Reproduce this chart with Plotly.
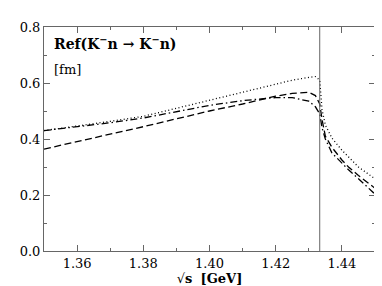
import plotly.graph_objects as go

# sqrt(s) in GeV
SQRT_S = [1.35, 1.36, 1.37, 1.38, 1.39, 1.40, 1.41, 1.42, 1.425, 1.43, 1.432,
          1.4333, 1.434, 1.435, 1.437, 1.44, 1.442, 1.445, 1.45]

REF_DOTTED = [0.430, 0.446, 0.463, 0.481, 0.510, 0.539, 0.568, 0.597, 0.610, 0.620, 0.623,
              0.610, 0.505, 0.450, 0.403, 0.360, 0.336, 0.300, 0.258]
REF_DASHDOT = [0.430, 0.443, 0.458, 0.475, 0.497, 0.520, 0.537, 0.548, 0.548, 0.535, 0.515,
               0.490, 0.440, 0.400, 0.350, 0.312, 0.290, 0.258, 0.203]
REF_DASHED = [0.364, 0.390, 0.417, 0.444, 0.472, 0.500, 0.525, 0.553, 0.563, 0.567, 0.555,
              0.525, 0.470, 0.410, 0.370, 0.325, 0.300, 0.270, 0.224]

THRESHOLD = 1.4333

X_TICKS = [1.36, 1.38, 1.40, 1.42, 1.44]
X_TICK_TEXT = ["1.36", "1.38", "1.40", "1.42", "1.44"]
Y_TICKS = [0.0, 0.2, 0.4, 0.6, 0.8]
Y_TICK_TEXT = ["0.0", "0.2", "0.4", "0.6", "0.8"]

FONT = "DejaVu Serif"
AXIS_GREY = "#666666"

fig = go.Figure()

for ys, dash in [(REF_DOTTED, "1px,2.5px"), (REF_DASHDOT, "7px,3px,1.5px,3px"), (REF_DASHED, "7px,3.5px")]:
    fig.add_trace(go.Scatter(
        x=SQRT_S, y=ys, mode="lines",
        line=dict(color="black", width=1.3, dash=dash),
        showlegend=False, hoverinfo="skip",
    ))

# K-bar N threshold
fig.add_shape(type="line", xref="x", yref="paper",
              x0=THRESHOLD, x1=THRESHOLD, y0=0, y1=1,
              line=dict(color=AXIS_GREY, width=1))

fig.add_annotation(
    xref="paper", yref="paper", x=0.025, y=0.93, xanchor="left", yanchor="middle",
    text="<b>Ref(K<sup>−</sup>n → K<sup>−</sup>n)</b>", showarrow=False,
    font=dict(family=FONT, size=14, color="black"),
)
fig.add_annotation(
    xref="paper", yref="paper", x=0.025, y=0.81, xanchor="left", yanchor="middle",
    text="[fm]", showarrow=False,
    font=dict(family=FONT, size=13, color="black"),
)

fig.update_xaxes(
    range=[1.35, 1.45], tickvals=X_TICKS, ticktext=X_TICK_TEXT,
    ticks="inside", ticklen=6, tickwidth=1, tickcolor=AXIS_GREY,
    minor=dict(dtick=0.01, tick0=1.35, ticks="inside", ticklen=3, tickwidth=1, tickcolor=AXIS_GREY),
    showline=True, linecolor=AXIS_GREY, linewidth=1, mirror="allticks",
    showgrid=False, zeroline=False,
    title=dict(text="√<b>s</b>  <b>[GeV]</b>", standoff=2,
               font=dict(family=FONT, size=13, color="black")),
    tickfont=dict(family=FONT, size=13, color="black"),
)
fig.update_yaxes(
    range=[0, 0.8], tickvals=Y_TICKS, ticktext=Y_TICK_TEXT,
    ticks="inside", ticklen=6, tickwidth=1, tickcolor=AXIS_GREY,
    minor=dict(dtick=0.1, tick0=0, ticks="inside", ticklen=3, tickwidth=1, tickcolor=AXIS_GREY),
    showline=True, linecolor=AXIS_GREY, linewidth=1, mirror="allticks",
    showgrid=False, zeroline=False,
    tickfont=dict(family=FONT, size=13, color="black"),
)

fig.update_layout(
    width=382, height=286,
    margin=dict(l=30, r=15, t=13, b=37),
    plot_bgcolor="white", paper_bgcolor="white",
    font=dict(family=FONT, size=13, color="black"),
)

fig.write_html("out.html")
